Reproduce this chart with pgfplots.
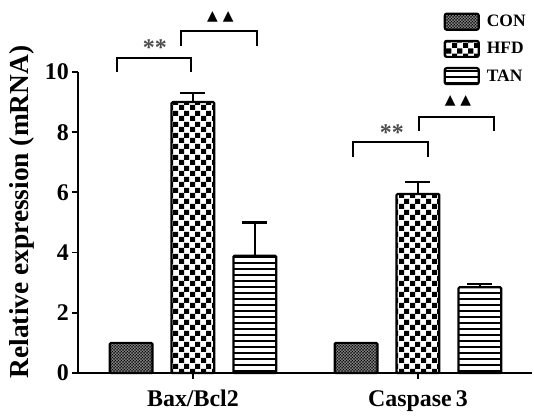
\documentclass[border=0pt]{standalone}
\usepackage{pgfplots}
\pgfplotsset{compat=1.18}
\usepackage{fontspec}
\setmainfont{Liberation Serif}
\newfontfamily\symfont{DejaVu Sans}
\usetikzlibrary{patterns}

\pgfdeclarepatternformonly{mychecker}{\pgfpointorigin}{\pgfqpoint{10.5bp}{10.5bp}}{\pgfqpoint{10.5bp}{10.5bp}}{%
  \pgfpathrectangle{\pgfpointorigin}{\pgfqpoint{5.25bp}{5.25bp}}%
  \pgfpathrectangle{\pgfqpoint{5.25bp}{5.25bp}}{\pgfqpoint{5.25bp}{5.25bp}}%
  \pgfusepath{fill}}
\pgfdeclarepatternformonly{myhlines}{\pgfqpoint{-1bp}{-1bp}}{\pgfqpoint{7bp}{7bp}}{\pgfqpoint{6bp}{6bp}}{%
  \pgfsetlinewidth{2.5bp}%
  \pgfpathmoveto{\pgfqpoint{-1bp}{3bp}}\pgfpathlineto{\pgfqpoint{7bp}{3bp}}%
  \pgfusepath{stroke}}
\pgfdeclarepatternformonly{mydots}{\pgfqpoint{-1.2bp}{-1.2bp}}{\pgfqpoint{4.2bp}{4.2bp}}{\pgfqpoint{3bp}{3bp}}{%
  \pgfpathcircle{\pgfqpoint{0bp}{0bp}}{1.05bp}%
  \pgfpathcircle{\pgfqpoint{1.5bp}{1.5bp}}{1.05bp}%
  \pgfusepath{fill}}

\pgfplotsset{
  mybar/.style={ybar, bar width=0.19, bar shift=0, draw=black, line width=2.2bp, rounded corners=1.2bp,
    legend image code/.code={\draw[##1, line width=2.2bp, rounded corners=2bp] (0bp,-8bp) rectangle (34bp,8bp);},
    error bars/y dir=plus, error bars/y explicit,
    error bars/error bar style={line width=2.2bp, black, solid, rounded corners=0pt},
    error bars/error mark options={rotate=90, mark size=12.5bp, line width=2.2bp, black}},
}

\begin{document}
\begin{tikzpicture}
\useasboundingbox (-78bp,-43bp) rectangle (456bp,373bp);
\begin{axis}[
  at={(0,0)}, anchor=south west,
  scale only axis, width=454bp, height=301bp,
  xmin=-0.511, xmax=1.507, ymin=0, ymax=10,
  axis x line=bottom, axis y line=left,
  axis line style={-, line width=2bp, black},
  xtick={0,1}, xticklabels={Bax/Bcl2, Caspase\,3},
  ytick={0,2,4,6,8,10},
  tick align=outside, major tick length=6bp,
  tick style={line width=1.8bp, black},
  /pgf/number format/assume math mode=true,
  yticklabel style={font=\fontsize{24}{24}\selectfont\bfseries, inner sep=3bp},
  xticklabel style={font=\fontsize{24}{24}\selectfont\bfseries, inner sep=3bp, yshift=-8bp},
  ylabel={Relative expression (mRNA)},
  ylabel style={at={(axis description cs:-0.123,0.535)}, anchor=center, font=\fontsize{27.5}{27.5}\selectfont\bfseries},
  clip=false,
  legend style={at={(axis description cs:0.805,1.198)}, anchor=north west, draw=none, fill=none,
    font=\fontsize{17.5}{17.5}\selectfont\bfseries, row sep=9bp, inner sep=0pt,
    /tikz/every odd column/.append style={column sep=5bp}},
  legend cell align=left,
]
\addplot[mybar, pattern=mydots] coordinates {(-0.275,1.0) (0.725,1.0)};
\addlegendentry{CON}
\addplot[mybar, pattern=mychecker] coordinates {(0,9.0) +- (0,0.3) (1,5.95) +- (0,0.4)};
\addlegendentry{HFD}
\addplot[mybar, pattern=myhlines] coordinates {(0.275,3.9) +- (0,1.1) (1.275,2.85) +- (0,0.1)};
\addlegendentry{TAN}

% significance brackets
\draw[line width=2.2bp] (axis cs:-0.338,10.0) -- (axis cs:-0.338,10.47) -- (axis cs:-0.009,10.47) -- (axis cs:-0.009,10.0);
\draw[line width=2.2bp] (axis cs:-0.053,10.86) -- (axis cs:-0.053,11.36) -- (axis cs:0.284,11.36) -- (axis cs:0.284,10.86);
\draw[line width=2.2bp] (axis cs:0.711,7.18) -- (axis cs:0.711,7.67) -- (axis cs:1.044,7.67) -- (axis cs:1.044,7.18);
\draw[line width=2.2bp] (axis cs:1.004,8.04) -- (axis cs:1.004,8.50) -- (axis cs:1.338,8.50) -- (axis cs:1.338,8.04);
\node[anchor=base, inner sep=0pt, font=\fontsize{24}{24}\selectfont\bfseries, text=black!70] at (axis cs:-0.169,10.55) {**};
\node[anchor=base, inner sep=0pt, font=\fontsize{24}{24}\selectfont\bfseries, text=black!70] at (axis cs:0.884,7.74) {**};
\node[anchor=center, inner sep=0pt, font=\symfont\fontsize{14}{14}\selectfont] at (axis cs:0.122,11.83) {▲\hspace{5bp}▲};
\node[anchor=center, inner sep=0pt, font=\symfont\fontsize{14}{14}\selectfont] at (axis cs:1.178,9.04) {▲\hspace{5bp}▲};
\end{axis}
\end{tikzpicture}
\end{document}
